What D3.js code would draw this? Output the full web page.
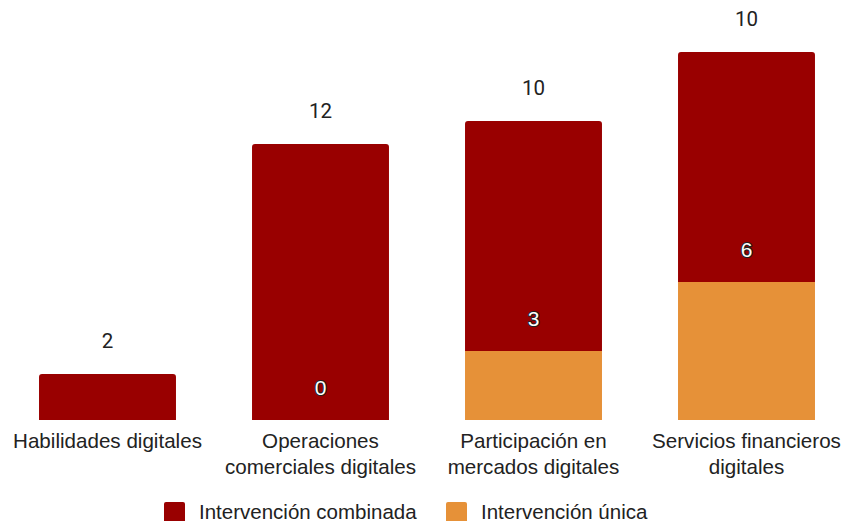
<!DOCTYPE html>
<html><head><meta charset="utf-8">
<script src="https://cdn.jsdelivr.net/npm/d3@7"></script>
<style>body{margin:0;background:#fff}svg{display:block;font-family:Roboto,"Noto Sans",sans-serif}</style>
</head><body><svg id="c" width="842" height="521"></svg>
<script>
const categories = [["Habilidades digitales"], ["Operaciones", "comerciales digitales"], ["Participación en", "mercados digitales"], ["Servicios financieros", "digitales"]];
const unica = [null, 0, 3, 6];
const combinada = [2, 12, 10, 10];
const seriesNames = ["Intervención combinada", "Intervención única"];
const colors = {unica: "#e69138", combinada: "#990000"};
const arial = "'Liberation Sans', Arial, sans-serif";

const svg = d3.select("#c");
const keys = categories.map((c, i) => i);
const x = d3.scaleBand().domain(keys).range([1, 853]).paddingInner(0.357).paddingOuter(0.1785);
const y = d3.scaleLinear().domain([0, 16]).range([420, 52]);

const rows = keys.map(i => ({i, unica: unica[i] || 0, combinada: combinada[i]}));
const stack = d3.stack().keys(["unica", "combinada"])(rows);

function topRounded(x0, y0, w, h, r) {
  if (h <= 0) return "";
  r = Math.min(r, h, w / 2);
  return `M${x0},${y0 + h}V${y0 + r}Q${x0},${y0} ${x0 + r},${y0}H${x0 + w - r}Q${x0 + w},${y0} ${x0 + w},${y0 + r}V${y0 + h}Z`;
}

svg.append("g").selectAll("rect").data(stack[0]).join("rect")
  .attr("x", d => x(d.data.i)).attr("width", x.bandwidth())
  .attr("y", d => y(d[1])).attr("height", d => y(d[0]) - y(d[1]))
  .attr("fill", colors.unica);
svg.append("g").selectAll("path").data(stack[1]).join("path")
  .attr("d", d => topRounded(x(d.data.i), y(d[1]), x.bandwidth(), y(d[0]) - y(d[1]), 3))
  .attr("fill", colors.combinada);

svg.append("g").selectAll("text").data(stack[1]).join("text")
  .attr("x", d => x(d.data.i) + x.bandwidth() / 2).attr("y", d => y(d[1]) - 26)
  .attr("text-anchor", "middle").attr("font-size", 20.5).attr("fill", "#222")
  .text(d => combinada[d.data.i]);

svg.append("g").selectAll("text").data(stack[0].filter(d => unica[d.data.i] !== null)).join("text")
  .attr("x", d => x(d.data.i) + x.bandwidth() / 2).attr("y", d => y(d[1]) - 25)
  .attr("text-anchor", "middle").attr("font-size", 21).attr("font-family", arial)
  .attr("fill", "#fff").attr("stroke", "#222").attr("stroke-width", 2.2)
  .attr("paint-order", "stroke").attr("stroke-linejoin", "round")
  .text(d => unica[d.data.i]);

const xl = svg.append("g").selectAll("text").data(keys).join("text")
  .attr("x", i => x(i) + x.bandwidth() / 2).attr("y", 447.5)
  .attr("text-anchor", "middle").attr("font-size", 20.6).attr("font-family", arial).attr("fill", "#222");
xl.each(function(i) {
  const t = d3.select(this);
  categories[i].forEach((line, k) => {
    t.append("tspan").attr("x", x(i) + x.bandwidth() / 2).attr("dy", k === 0 ? 0 : 26).text(line);
  });
});

const leg = [{name: seriesNames[0], color: colors.combinada, x: 164}, {name: seriesNames[1], color: colors.unica, x: 446}];
const lg = svg.append("g").selectAll("g").data(leg).join("g");
lg.append("rect").attr("x", d => d.x).attr("y", 502).attr("width", 21).attr("height", 21).attr("rx", 2).attr("fill", d => d.color);
lg.append("text").attr("x", d => d.x + 35).attr("y", 518.5).attr("font-size", 20.5).attr("font-family", arial)
  .attr("fill", "#222").text(d => d.name);
</script></body></html>
